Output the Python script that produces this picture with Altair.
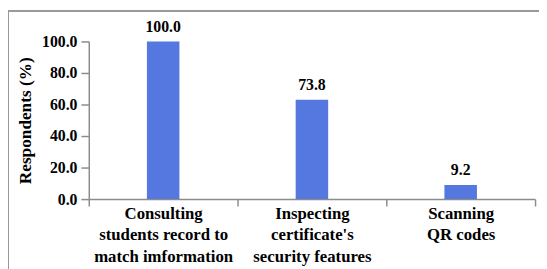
import altair as alt
import pandas as pd

categories = [
    "Consulting\nstudents record to\nmatch imformation",
    "Inspecting\ncertificate's\nsecurity features",
    "Scanning\nQR codes",
]
bar_heights = [100.0, 63.1, 9.0]
label_values = [100.0, 73.8, 9.2]
y_ticks = [0, 20, 40, 60, 80, 100]

df = pd.DataFrame({"cat": categories, "h": bar_heights, "lab": label_values})

FONT = "Liberation Serif"
GRAY = "#8c8c8c"

x_enc = alt.X(
    "cat:N",
    sort=categories,
    title=None,
    scale=alt.Scale(paddingInner=0, paddingOuter=0),
    axis=alt.Axis(
        labelAngle=0,
        labelExpr="split(datum.label, '\\n')",
        labelFont=FONT,
        labelFontWeight="bold",
        labelFontSize=17,
        labelLineHeight=21.5,
        labelPadding=0,
        labelBaseline="top",
        tickBand="extent",
        tickSize=7,
    ),
)

y_enc = alt.Y(
    "h:Q",
    title="Respondents (%)",
    scale=alt.Scale(domain=[0, 100], nice=False),
    axis=alt.Axis(
        values=y_ticks,
        format=".1f",
        labelFont=FONT,
        labelFontWeight="bold",
        labelFontSize=16,
        labelPadding=4,
        tickSize=8,
        grid=False,
        titleFontSize=17.5,
        titlePadding=7,
    ),
)

base = alt.Chart(df).encode(x=x_enc, y=y_enc)

bars = base.mark_bar(size=33, color="#5577E0")

labels = base.mark_text(
    dy=-15, fontSize=16, font=FONT, fontWeight="bold", color="black"
).encode(
    text=alt.Text("lab:Q", format=".1f"),
)

frame_left = alt.Chart(df).mark_rule(color="#999999", strokeWidth=2).encode(
    x=alt.value(-82), y=alt.value(-31), y2=alt.value(240)
)
frame_top = alt.Chart(df).mark_rule(color="#999999", strokeWidth=2).encode(
    x=alt.value(-83), x2=alt.value(470), y=alt.value(-31)
)

chart = (
    alt.layer(bars, labels, frame_left, frame_top)
    .properties(
        width=453,
        height=160,
        autosize=alt.AutoSizeParams(type="none"),
        padding={"left": 82, "top": 32, "right": 4, "bottom": 69},
    )
    .configure(
        font=FONT,
        style={
            "guide-label": {"font": FONT, "fontWeight": "bold", "fill": "black"},
            "guide-title": {"font": FONT, "fontWeight": "bold", "fill": "black"},
        },
    )
    .configure_view(stroke=None)
    .configure_axis(
        labelFont=FONT,
        labelFontWeight="bold",
        labelColor="black",
        labelOverlap=False,
        titleFont=FONT,
        titleFontWeight="bold",
        titleColor="black",
        tickColor=GRAY,
        domainColor=GRAY,
        domainWidth=1.5,
        tickWidth=1.5,
    )
    .configure_text(font=FONT, fontWeight="bold", color="black")
)

chart.save("out.html", embed_options={"renderer": "svg", "actions": False})
